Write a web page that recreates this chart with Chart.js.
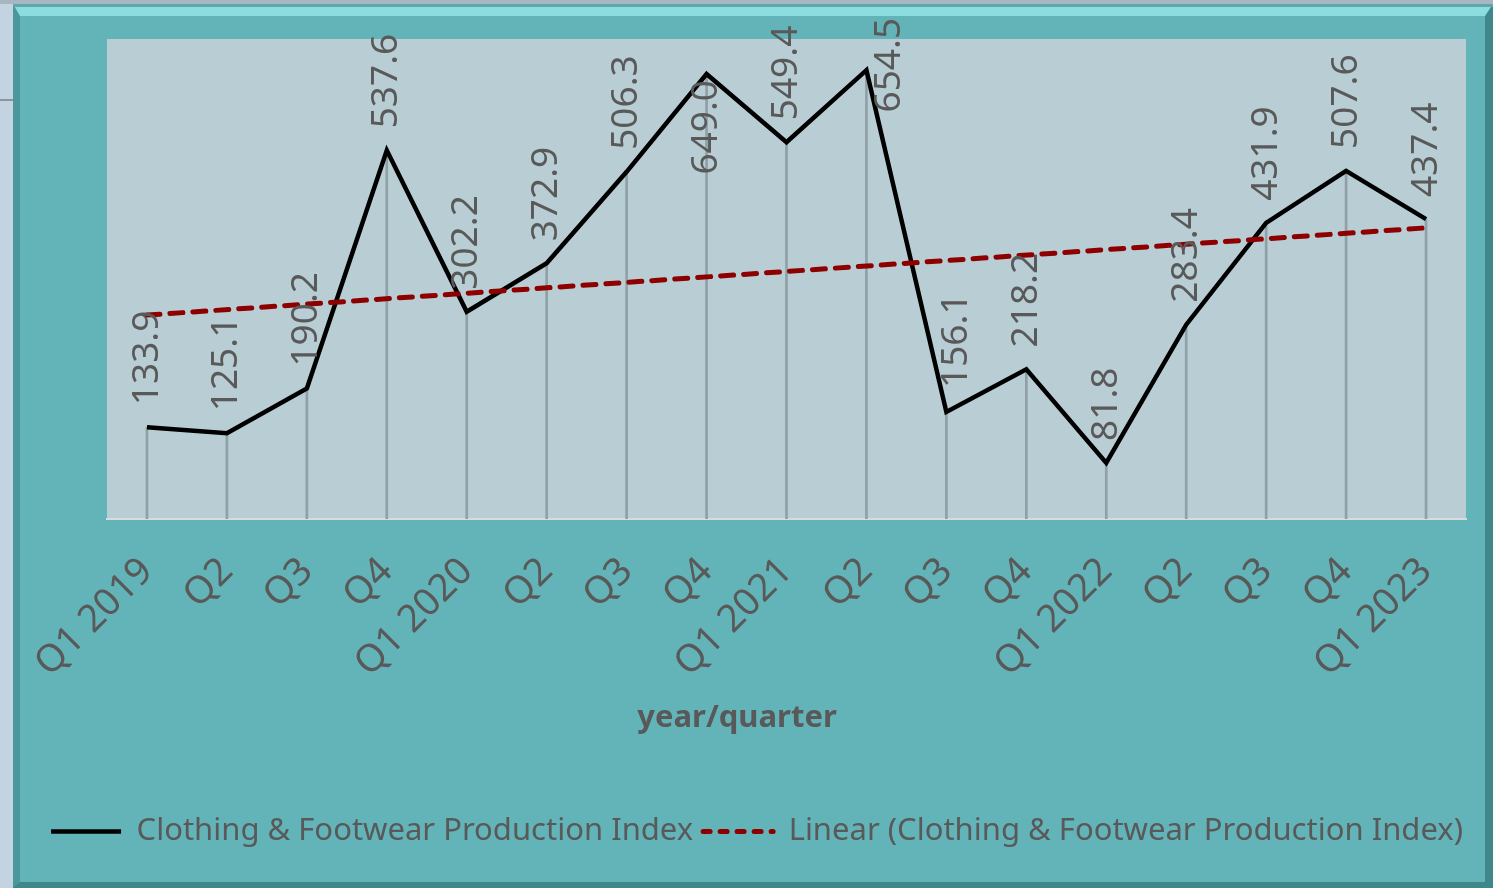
<!DOCTYPE html>
<html><head><meta charset="utf-8">
<script src="https://cdn.jsdelivr.net/npm/chart.js@4"></script>
<style>
html,body{margin:0;padding:0;}
body{width:1493px;height:888px;background:#C4D3E2;position:relative;overflow:hidden;}
#topstrip{position:absolute;left:0;top:0;width:1493px;height:4px;background:#A9B6C1;}
#mark{position:absolute;left:0;top:99px;width:13px;height:2px;background:#8A969E;}
#frame{position:absolute;left:13px;top:4px;width:1465px;height:866px;background:#63B4B9;
  border-top:12px solid #8BDDE0;border-left:7px solid #4A989C;border-right:8px solid #3F878B;border-bottom:6px solid #3F878B;}
#frame:before{content:"";position:absolute;left:-7px;top:-12px;right:-8px;height:3px;background:#5FA9AE;}
canvas{display:block;}
</style></head>
<body>
<div id="topstrip"></div><div id="mark"></div>
<div id="frame"><canvas id="c" width="1465" height="866"></canvas></div>
<script>
const categories = ['Q1 2019','Q2','Q3','Q4','Q1 2020','Q2','Q3','Q4','Q1 2021','Q2','Q3','Q4','Q1 2022','Q2','Q3','Q4','Q1 2023'];
const indexValues = [133.9,125.1,190.2,537.6,302.2,372.9,506.3,649.0,549.4,654.5,156.1,218.2,81.8,283.4,431.9,507.6,437.4];
const trendValues = [297.4,null,null,null,null,null,null,null,null,null,null,null,null,null,null,null,424.6];
const yMin = 0;
const yMax = 700;
const seriesName = 'Clothing & Footwear Production Index';
const trendName = 'Linear (Clothing & Footwear Production Index)';
const axisTitle = 'year/quarter';

// label placement style (not data)
const labelPlacement = ['above','above','above','above','above','above','above','below','above','right','aboveShift','above','above','above','above','above','above'];

const TXT = '#595959';
const FONT = 'Noto Sans';

const plotBg = {
  id: 'plotBg',
  beforeDraw(chart) {
    const {ctx, chartArea: a} = chart;
    ctx.save();
    ctx.fillStyle = '#B8CED4';
    ctx.fillRect(a.left, a.top, a.right - a.left, a.bottom - a.top);
    ctx.restore();
  }
};

const pointLabels = {
  id: 'pointLabels',
  afterDatasetsDraw(chart) {
    const ctx = chart.ctx;
    const meta = chart.getDatasetMeta(1);
    ctx.save();
    ctx.fillStyle = TXT;
    ctx.font = '37px "' + FONT + '"';
    ctx.textBaseline = 'middle';
    meta.data.forEach((el, i) => {
      const txt = indexValues[i].toFixed(1);
      const p = labelPlacement[i];
      ctx.save();
      if (p === 'below') {
        ctx.translate(el.x, el.y + 6);
        ctx.rotate(-Math.PI / 2);
        ctx.textAlign = 'right';
      } else if (p === 'right') {
        ctx.translate(el.x + 23, el.y - 5);
        ctx.rotate(-Math.PI / 2);
        ctx.textAlign = 'center';
      } else if (p === 'aboveShift') {
        ctx.translate(el.x + 10, el.y - 24);
        ctx.rotate(-Math.PI / 2);
        ctx.textAlign = 'left';
      } else {
        ctx.translate(el.x, el.y - 22);
        ctx.rotate(-Math.PI / 2);
        ctx.textAlign = 'left';
      }
      ctx.fillText(txt, 0, 0);
      ctx.restore();
    });
    ctx.restore();
  }
};

const xTitle = {
  id: 'xTitle',
  afterDraw(chart) {
    const {ctx, chartArea: a} = chart;
    ctx.save();
    ctx.fillStyle = TXT;
    ctx.font = 'bold 31px "' + FONT + '"';
    ctx.textAlign = 'center';
    ctx.textBaseline = 'middle';
    ctx.fillText(axisTitle, a.left + 630, a.bottom + 199);
    ctx.restore();
  }
};

const PAD_BOTTOM = 25;
const AREA_BOTTOM = 503;

const legendDash = { 2: [7, 10] };

new Chart(document.getElementById('c'), {
  data: {
    labels: categories,
    datasets: [
      {
        type: 'bar',
        label: 'drop',
        data: indexValues,
        backgroundColor: '#8FA0A6',
        barThickness: 2,
        order: 3
      },
      {
        type: 'line',
        label: seriesName,
        data: indexValues,
        borderColor: '#000000',
        backgroundColor: '#000000',
        borderWidth: 4.5,
        borderJoinStyle: 'miter',
        borderCapStyle: 'butt',
        pointRadius: 0,
        tension: 0,
        order: 2
      },
      {
        type: 'line',
        label: trendName,
        data: trendValues,
        spanGaps: true,
        borderColor: '#8E0000',
        backgroundColor: '#8E0000',
        borderWidth: 5,
        borderDash: [13, 10],
        borderCapStyle: 'round',
        pointRadius: 0,
        tension: 0,
        order: 1
      }
    ]
  },
  options: {
    responsive: false,
    animation: false,
    layout: { padding: { left: 9, right: 0, top: 23, bottom: PAD_BOTTOM } },
    scales: {
      x: {
        type: 'category',
        grid: { display: false, drawTicks: false },
        border: { display: true, color: '#D9DCDC', width: 2 },
        ticks: {
          color: TXT,
          font: { family: FONT, size: 38 },
          minRotation: 45,
          maxRotation: 45,
          autoSkip: false,
          padding: 30
        },
        afterFit(s) {
          const lg = s.chart.legend;
          s.height = s.chart.height - AREA_BOTTOM - PAD_BOTTOM - (lg ? lg.height : 0);
          s.paddingLeft = 0;
          s.paddingRight = 0;
        }
      },
      y: {
        display: true,
        position: 'left',
        min: yMin,
        max: yMax,
        ticks: { display: false },
        grid: { display: false, drawTicks: false },
        border: { display: false },
        afterFit(s) { s.width = 78; }
      },
      y2: {
        display: true,
        position: 'right',
        min: yMin,
        max: yMax,
        ticks: { display: false },
        grid: { display: false, drawTicks: false },
        border: { display: false },
        afterFit(s) { s.width = 19; }
      }
    },
    plugins: {
      tooltip: { enabled: false },
      legend: {
        position: 'bottom',
        labels: {
          color: TXT,
          font: { family: FONT, size: 31 },
          usePointStyle: true,
          pointStyle: 'line',
          pointStyleWidth: 70,
          padding: 10,
          filter: (item) => item.datasetIndex !== 0,
          sort: (a, b) => a.datasetIndex - b.datasetIndex,
          generateLabels(chart) {
            const items = Chart.defaults.plugins.legend.labels.generateLabels(chart);
            items.forEach(it => {
              const ds = chart.data.datasets[it.datasetIndex];
              it.lineWidth = ds.borderWidth;
              it.strokeStyle = ds.borderColor;
              it.lineDash = legendDash[it.datasetIndex] || [];
              it.lineCap = it.datasetIndex === 2 ? 'round' : 'butt';
            });
            return items;
          }
        }
      }
    }
  },
  plugins: [plotBg, pointLabels, xTitle]
});
</script>
</body></html>
